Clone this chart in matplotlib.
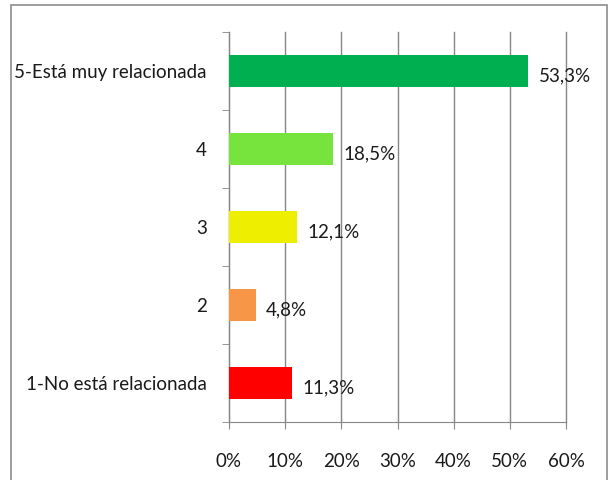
import matplotlib
matplotlib.use("Agg")
import matplotlib.pyplot as plt
from matplotlib.patches import Rectangle
from matplotlib.ticker import FuncFormatter

# data (bottom to top)
categories = ["1-No está relacionada", "2", "3", "4", "5-Está muy relacionada"]
values = [11.3, 4.8, 12.1, 18.5, 53.3]
colors = ["#FF0000", "#F79646", "#EEEE00", "#77E33D", "#00B050"]
xticks = [0, 10, 20, 30, 40, 50, 60]

plt.rcParams['font.family'] = ['Lato', 'DejaVu Sans']
FS = 13.5

fig = plt.figure(figsize=(6.14, 4.80), dpi=100)
ax = fig.add_axes([229 / 614, 58 / 480, 337 / 614, 390 / 480])

# outer chart border
fig.patches.append(Rectangle((11 / 614, -0.05), 596 / 614, 1 - 5 / 480 + 0.05,
                             transform=fig.transFigure, fill=False,
                             edgecolor="#8C8C8C", linewidth=1.2))

y = range(len(categories))
ax.barh(y, values, height=0.4, color=colors, zorder=3)

for yi, v in zip(y, values):
    ax.text(v + 1.8, yi - 0.06, f"{v:.1f}%".replace(".", ","),
            va="center", ha="left", fontsize=FS, color="#1A1A1A")

ax.set_xlim(0, 60)
ax.set_ylim(-0.5, len(categories) - 0.5)
ax.set_xticks(xticks)
ax.xaxis.set_major_formatter(FuncFormatter(lambda x, _: f"{x:.0f}%"))
ax.set_yticks(list(y))
ax.set_yticklabels(categories)
ax.set_yticks([i - 0.5 for i in range(len(categories) + 1)], minor=True)

ax.grid(axis="x", color="#868686", linewidth=1.0, zorder=0)
for line in ax.get_xgridlines():
    line.set_clip_on(False)
for side in ["top", "right"]:
    ax.spines[side].set_visible(False)
for side in ["left", "bottom"]:
    ax.spines[side].set_color("#868686")

ax.tick_params(axis="x", length=5, color="#868686", labelsize=FS, pad=17,
               labelcolor="#1A1A1A")
ax.tick_params(axis="y", which="major", length=0, labelsize=FS, pad=16,
               labelcolor="#1A1A1A")
ax.tick_params(axis="y", which="minor", length=5, color="#868686")

fig.savefig("out.png", dpi=100)
